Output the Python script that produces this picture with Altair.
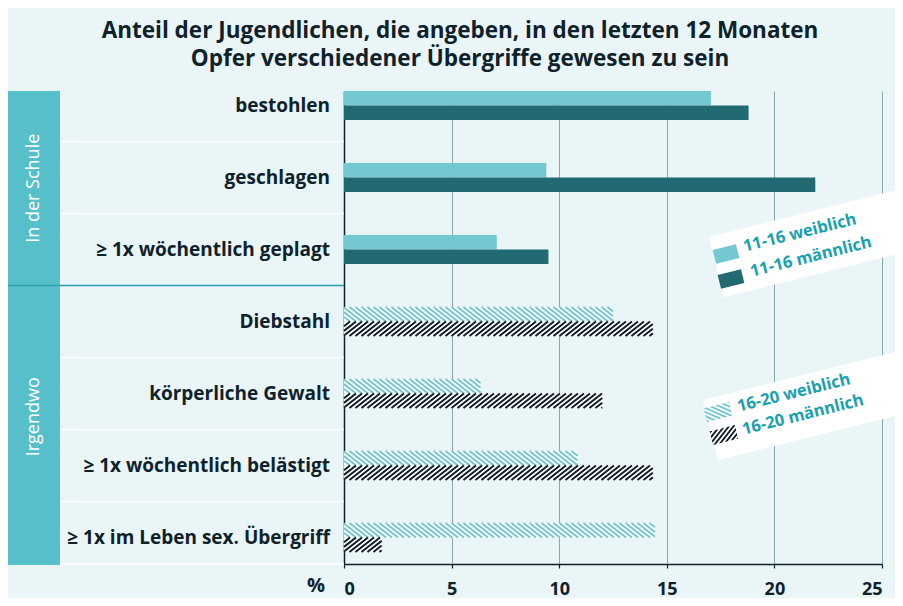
import math
import altair as alt
import pandas as pd

# ---------------- data ----------------
categories = [
    "bestohlen",
    "geschlagen",
    "≥ 1x wöchentlich geplagt",
    "Diebstahl",
    "körperliche Gewalt",
    "≥ 1x wöchentlich belästigt",
    "≥ 1x im Leben sex. Übergriff",
]
groups = ["In der Schule"] * 3 + ["Irgendwo"] * 4
weiblich = [17.05, 9.4, 7.1, 12.5, 6.35, 10.85, 14.45]
maennlich = [18.8, 21.9, 9.5, 14.35, 12.0, 14.35, 1.75]
legend_school = ["11-16 weiblich", "11-16 männlich"]
legend_else = ["16-20 weiblich", "16-20 männlich"]
x_ticks = [0, 5, 10, 15, 20, 25]
title_lines = [
    "Anteil der Jugendlichen, die angeben, in den letzten 12 Monaten",
    "Opfer verschiedener Übergriffe gewesen zu sein",
]

# ---------------- style ----------------
BG = "#e9f5f7"
DARK = "#0f222c"
C_W = "#72c7d1"
C_M = "#226a72"
C_HM = "#0e1c25"
BAND = "#56bfca"
LEG_TXT = "#17a1af"
GRID = "#86aab0"
FONT = "Open Sans"

W, H = 538, 473
ROW_PX = 72.0
BAR_PX = 14.5
PXX = W / 25.0
YMAX = H / ROW_PX
BU = BAR_PX / ROW_PX
THETA = math.radians(38)
PER = 6.0  # hatch period in px

# ---------------- tables ----------------
rows = []
for i, (c, g, w, m) in enumerate(zip(categories, groups, weiblich, maennlich)):
    hat = g != groups[0]
    rows.append(dict(cat=c, v=w, zero=0, y0=i, y1=i + BU,
                     fillc=("white" if hat else C_W)))
    rows.append(dict(cat=c, v=m, zero=0, y0=i + BU, y1=i + 2 * BU,
                     fillc=("white" if hat else C_M)))
bars = pd.DataFrame(rows)

labels = pd.DataFrame({"cat": categories,
                       "yc": [i + BU for i in range(len(categories))]})


def hatch(v, ytop, ybot, direction, color):
    vpx = v * PXX
    hpx = (ybot - ytop) * ROW_PX
    L = hpx / math.tan(THETA)
    out = []
    x0 = -L
    ys, ye = (ybot, ytop) if direction == "/" else (ytop, ybot)
    while x0 < vpx:
        t0 = max(0.0, (0 - x0) / L)
        t1 = min(1.0, (vpx - x0) / L)
        if t1 > t0:
            out.append(dict(x=(x0 + t0 * L) / PXX, x2=(x0 + t1 * L) / PXX,
                            y=ys + t0 * (ye - ys), y2=ys + t1 * (ye - ys), c=color))
        x0 += PER
    return out


hrows = []
for i, (g, w, m) in enumerate(zip(groups, weiblich, maennlich)):
    if g != groups[0]:
        hrows += hatch(w, i, i + BU, "\\", C_W)
        hrows += hatch(m, i + BU, i + 2 * BU, "/", C_HM)
hatches = pd.DataFrame(hrows)

# separators between rows
seps = []
for k in range(1, len(categories)):
    yk = k - 1 + 2 * BU + (1 - 2 * BU) / 2
    seps.append(dict(ys=yk, grp_break=(groups[k] != groups[k - 1])))
seps_df = pd.DataFrame(seps)
white_seps = pd.DataFrame({"ys": list(seps_df[~seps_df.grp_break].ys) + [YMAX]})
group_seps = pd.DataFrame({"ys": list(seps_df[seps_df.grp_break].ys)})

gb = seps_df[seps_df.grp_break].ys.iloc[0]
grp_names = [groups[0], groups[-1]]
grp_adj = [0.0, -8.0 / ROW_PX]
grp_df = pd.DataFrame({"g": grp_names,
                       "ly": [gb / 2 + grp_adj[0], (gb + YMAX) / 2 + grp_adj[1]]})
band_df = pd.DataFrame({"ys": [0.0], "ye": [YMAX + 1 / ROW_PX]})

# ---------------- scales / axes ----------------
xs = alt.Scale(domain=[0, 25], nice=False, zero=True)
ys_ = alt.Scale(domain=[0, YMAX], reverse=True, nice=False, zero=False)

x_axis = alt.Axis(
    values=x_ticks, grid=True, gridColor=GRID, gridWidth=1,
    domainColor=DARK, domainWidth=1.5, tickColor=DARK, tickSize=4, tickWidth=1.2,
    labelFont=FONT, labelFontWeight="bold", labelFontSize=18, labelColor=DARK,
    labelPadding=12, title=None)
y_axis = alt.Axis(
    labels=False, ticks=False, grid=False, domainColor=DARK, domainWidth=1.5,
    title=None)

band = alt.Chart(band_df).mark_rect(color=BAND).encode(
    x=alt.value(-336), x2=alt.value(-284),
    y=alt.Y("ys:Q", scale=ys_, axis=y_axis), y2="ye:Q")

wsep = alt.Chart(white_seps).mark_rule(color="white", strokeWidth=1.5).encode(
    x=alt.value(-284), x2=alt.value(0), y=alt.Y("ys:Q", scale=ys_, axis=y_axis))
gsep = alt.Chart(group_seps).mark_rule(color="#2a9ea9", strokeWidth=1.5).encode(
    x=alt.value(-336), x2=alt.value(0), y=alt.Y("ys:Q", scale=ys_, axis=y_axis))

bar_layer = alt.Chart(bars).mark_rect().encode(
    x=alt.X("v:Q", scale=xs, axis=x_axis), x2="zero:Q",
    y=alt.Y("y0:Q", scale=ys_, axis=y_axis), y2="y1:Q",
    fill=alt.Fill("fillc:N", scale=None))

hatch_layer = alt.Chart(hatches).mark_rule(strokeWidth=2.0, strokeCap="butt").encode(
    x=alt.X("x:Q", scale=xs, axis=x_axis), x2="x2:Q",
    y=alt.Y("y:Q", scale=ys_, axis=y_axis), y2="y2:Q",
    color=alt.Color("c:N", scale=None))

cat_text = alt.Chart(labels).mark_text(
    align="right", baseline="middle", font=FONT, fontWeight="bold",
    fontSize=19, color=DARK).encode(
    x=alt.value(-14), y=alt.Y("yc:Q", scale=ys_, axis=y_axis), text="cat:N")

grp_text = alt.Chart(grp_df).mark_text(
    align="center", baseline="middle", font=FONT, fontSize=18, angle=270,
    color="white").encode(
    x=alt.value(-310.5), y=alt.Y("ly:Q", scale=ys_, axis=y_axis), text="g:N")


def txt(s, px, py, **kw):
    return alt.Chart(pd.DataFrame({"t": [s]})).mark_text(**kw).encode(
        x=alt.value(px), y=alt.value(py), text="t:N")


def sym(path, px, py, color, ang=346):
    return alt.Chart(pd.DataFrame({"t": [0]})).mark_point(
        shape=path, filled=True, size=4, angle=ang, fill=color, opacity=1,
        strokeWidth=0).encode(x=alt.value(px), y=alt.value(py))


def clip_poly(pts, xmin, xmax):
    def clip(pts, inside, inter):
        out = []
        for i in range(len(pts)):
            cur, prev = pts[i], pts[i - 1]
            if inside(cur):
                if not inside(prev):
                    out.append(inter(prev, cur))
                out.append(cur)
            elif inside(prev):
                out.append(inter(prev, cur))
        return out

    def ix(a, b, xc):
        t = (xc - a[0]) / (b[0] - a[0])
        return (xc, a[1] + t * (b[1] - a[1]))

    pts = clip(pts, lambda p: p[0] >= xmin, lambda a, b: ix(a, b, xmin))
    if pts:
        pts = clip(pts, lambda p: p[0] <= xmax, lambda a, b: ix(a, b, xmax))
    return pts


def hatch_path(direction, hw=13, hh=7):
    L = 2 * hh / math.tan(THETA)
    parts = []
    x0 = -hw - L
    while x0 < hw:
        if direction == "/":
            poly = [(x0, hh), (x0 + PER / 2, hh), (x0 + PER / 2 + L, -hh), (x0 + L, -hh)]
        else:
            poly = [(x0, -hh), (x0 + PER / 2, -hh), (x0 + PER / 2 + L, hh), (x0 + L, hh)]
        poly = clip_poly(poly, -hw, hw)
        if len(poly) >= 3:
            parts.append("M" + "L".join(f"{p[0]:.2f},{p[1]:.2f}" for p in poly) + "Z")
        x0 += PER
    return "".join(parts)


box_path = "M-130,-31H130V31H-130Z"
sw_path = "M-12,-7H12V7H-12Z"
leg_kw = dict(align="left", baseline="middle", font=FONT, fontWeight="bold",
              fontSize=16.5, color=LEG_TXT, angle=346)

legend = [
    sym(box_path, 498.6, 144.6, "white"),
    sym(sw_path, 382, 163, C_W),
    sym(sw_path, 387, 188, C_M),
    txt(legend_school[0], 399.5, 156, **leg_kw),
    txt(legend_school[1], 406.5, 181, **leg_kw),
    sym(box_path, 492.6, 307.6, "white"),
    sym(hatch_path("\\"), 374, 321, C_W),
    sym(hatch_path("/"), 380, 344, C_HM),
    txt(legend_else[0], 393.5, 316, **leg_kw),
    txt(legend_else[1], 398.5, 339, **leg_kw),
]

title_kw = dict(align="center", baseline="alphabetic", font=FONT,
                fontWeight="bold", fontSize=22.5, color=DARK)
titles = [txt(title_lines[0], 116, -53, **title_kw),
          txt(title_lines[1], 116, -25, **title_kw)]
pct = txt("%", -28, 495, align="center", baseline="middle", font=FONT,
          fontWeight="bold", fontSize=20, color=DARK)

chart = alt.layer(
    bar_layer, band, wsep, gsep, hatch_layer, cat_text, grp_text,
    *legend, *titles, pct
).properties(
    width=W, height=H,
    padding={"left": 336, "top": 83, "right": 13, "bottom": 34},
    autosize=alt.AutoSizeParams(type="none"),
    background=BG,
).configure_view(stroke=None)

chart.save("out.html", embed_options={"renderer": "svg", "actions": False})
